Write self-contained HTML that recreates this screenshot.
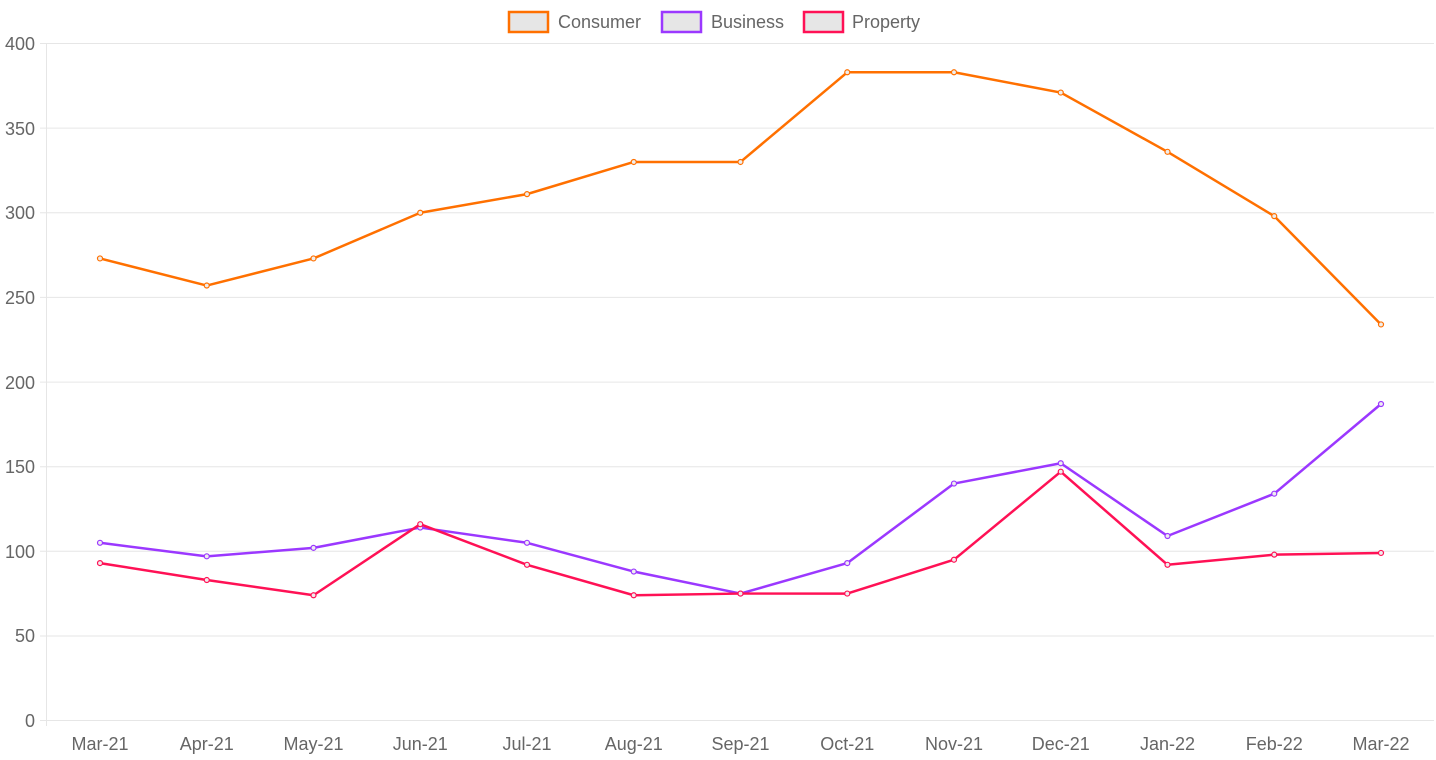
<!DOCTYPE html>
<html><head><meta charset="utf-8"><style>
html,body{margin:0;padding:0;background:#fff;}
svg{display:block;font-family:"Liberation Sans",Arial,sans-serif;}
</style></head><body>
<svg width="1436" height="760" viewBox="0 0 1436 760" xmlns="http://www.w3.org/2000/svg">
<g stroke="#e6e6e6" stroke-width="1">
<line x1="40" y1="43.5" x2="1434" y2="43.5"/>
<line x1="40" y1="128.1" x2="1434" y2="128.1"/>
<line x1="40" y1="212.8" x2="1434" y2="212.8"/>
<line x1="40" y1="297.4" x2="1434" y2="297.4"/>
<line x1="40" y1="382.1" x2="1434" y2="382.1"/>
<line x1="40" y1="466.7" x2="1434" y2="466.7"/>
<line x1="40" y1="551.3" x2="1434" y2="551.3"/>
<line x1="40" y1="636" x2="1434" y2="636"/>
<line x1="40" y1="720.5" x2="1434" y2="720.5"/>
<line x1="46.5" y1="43" x2="46.5" y2="726"/>
</g>
<g fill="#666" font-size="18" text-anchor="end">
<text x="35" y="50">400</text><text x="35" y="135">350</text><text x="35" y="219">300</text>
<text x="35" y="304">250</text><text x="35" y="389">200</text><text x="35" y="473">150</text>
<text x="35" y="558">100</text><text x="35" y="642">50</text><text x="35" y="727">0</text>
</g>
<g fill="#666" font-size="18" text-anchor="middle" id="xl"></g>
<g font-size="18" fill="#666">
<rect x="509" y="12" width="39" height="20" fill="#e6e6e6" stroke="#ff7000" stroke-width="2.5"/>
<text x="558" y="28">Consumer</text>
<rect x="662" y="12" width="39" height="20" fill="#e6e6e6" stroke="#9b38ff" stroke-width="2.5"/>
<text x="711" y="28">Business</text>
<rect x="804" y="12" width="39" height="20" fill="#e6e6e6" stroke="#ff1155" stroke-width="2.5"/>
<text x="852" y="28">Property</text>
</g>
<g id="series"></g>
</svg>
<script>
var ns="http://www.w3.org/2000/svg";
var labels=["Mar-21","Apr-21","May-21","Jun-21","Jul-21","Aug-21","Sep-21","Oct-21","Nov-21","Dec-21","Jan-22","Feb-22","Mar-22"];
var xl=document.getElementById("xl");
function X(i){return 100+i*106.75;}
function Y(v){return 720.5-v*1.6925;}
labels.forEach(function(l,i){var t=document.createElementNS(ns,"text");t.setAttribute("x",X(i));t.setAttribute("y",750);t.textContent=l;xl.appendChild(t);});
var data=[
["#ff7000",[273,257,273,300,311,330,330,383,383,371,336,298,234]],
["#9b38ff",[105,97,102,114,105,88,75,93,140,152,109,134,187]],
["#ff1155",[93,83,74,116,92,74,75,75,95,147,92,98,99]]];
var g=document.getElementById("series");
data.forEach(function(d){
var p=document.createElementNS(ns,"polyline");
p.setAttribute("points",d[1].map(function(v,i){return X(i)+","+Y(v);}).join(" "));
p.setAttribute("fill","none");p.setAttribute("stroke",d[0]);p.setAttribute("stroke-width","2.5");p.setAttribute("stroke-linejoin","round");
g.appendChild(p);
d[1].forEach(function(v,i){var c=document.createElementNS(ns,"circle");c.setAttribute("cx",X(i));c.setAttribute("cy",Y(v));c.setAttribute("r","2.5");c.setAttribute("fill","#eee");c.setAttribute("stroke",d[0]);c.setAttribute("stroke-width","1.2");g.appendChild(c);});
});
</script>
</body></html>
